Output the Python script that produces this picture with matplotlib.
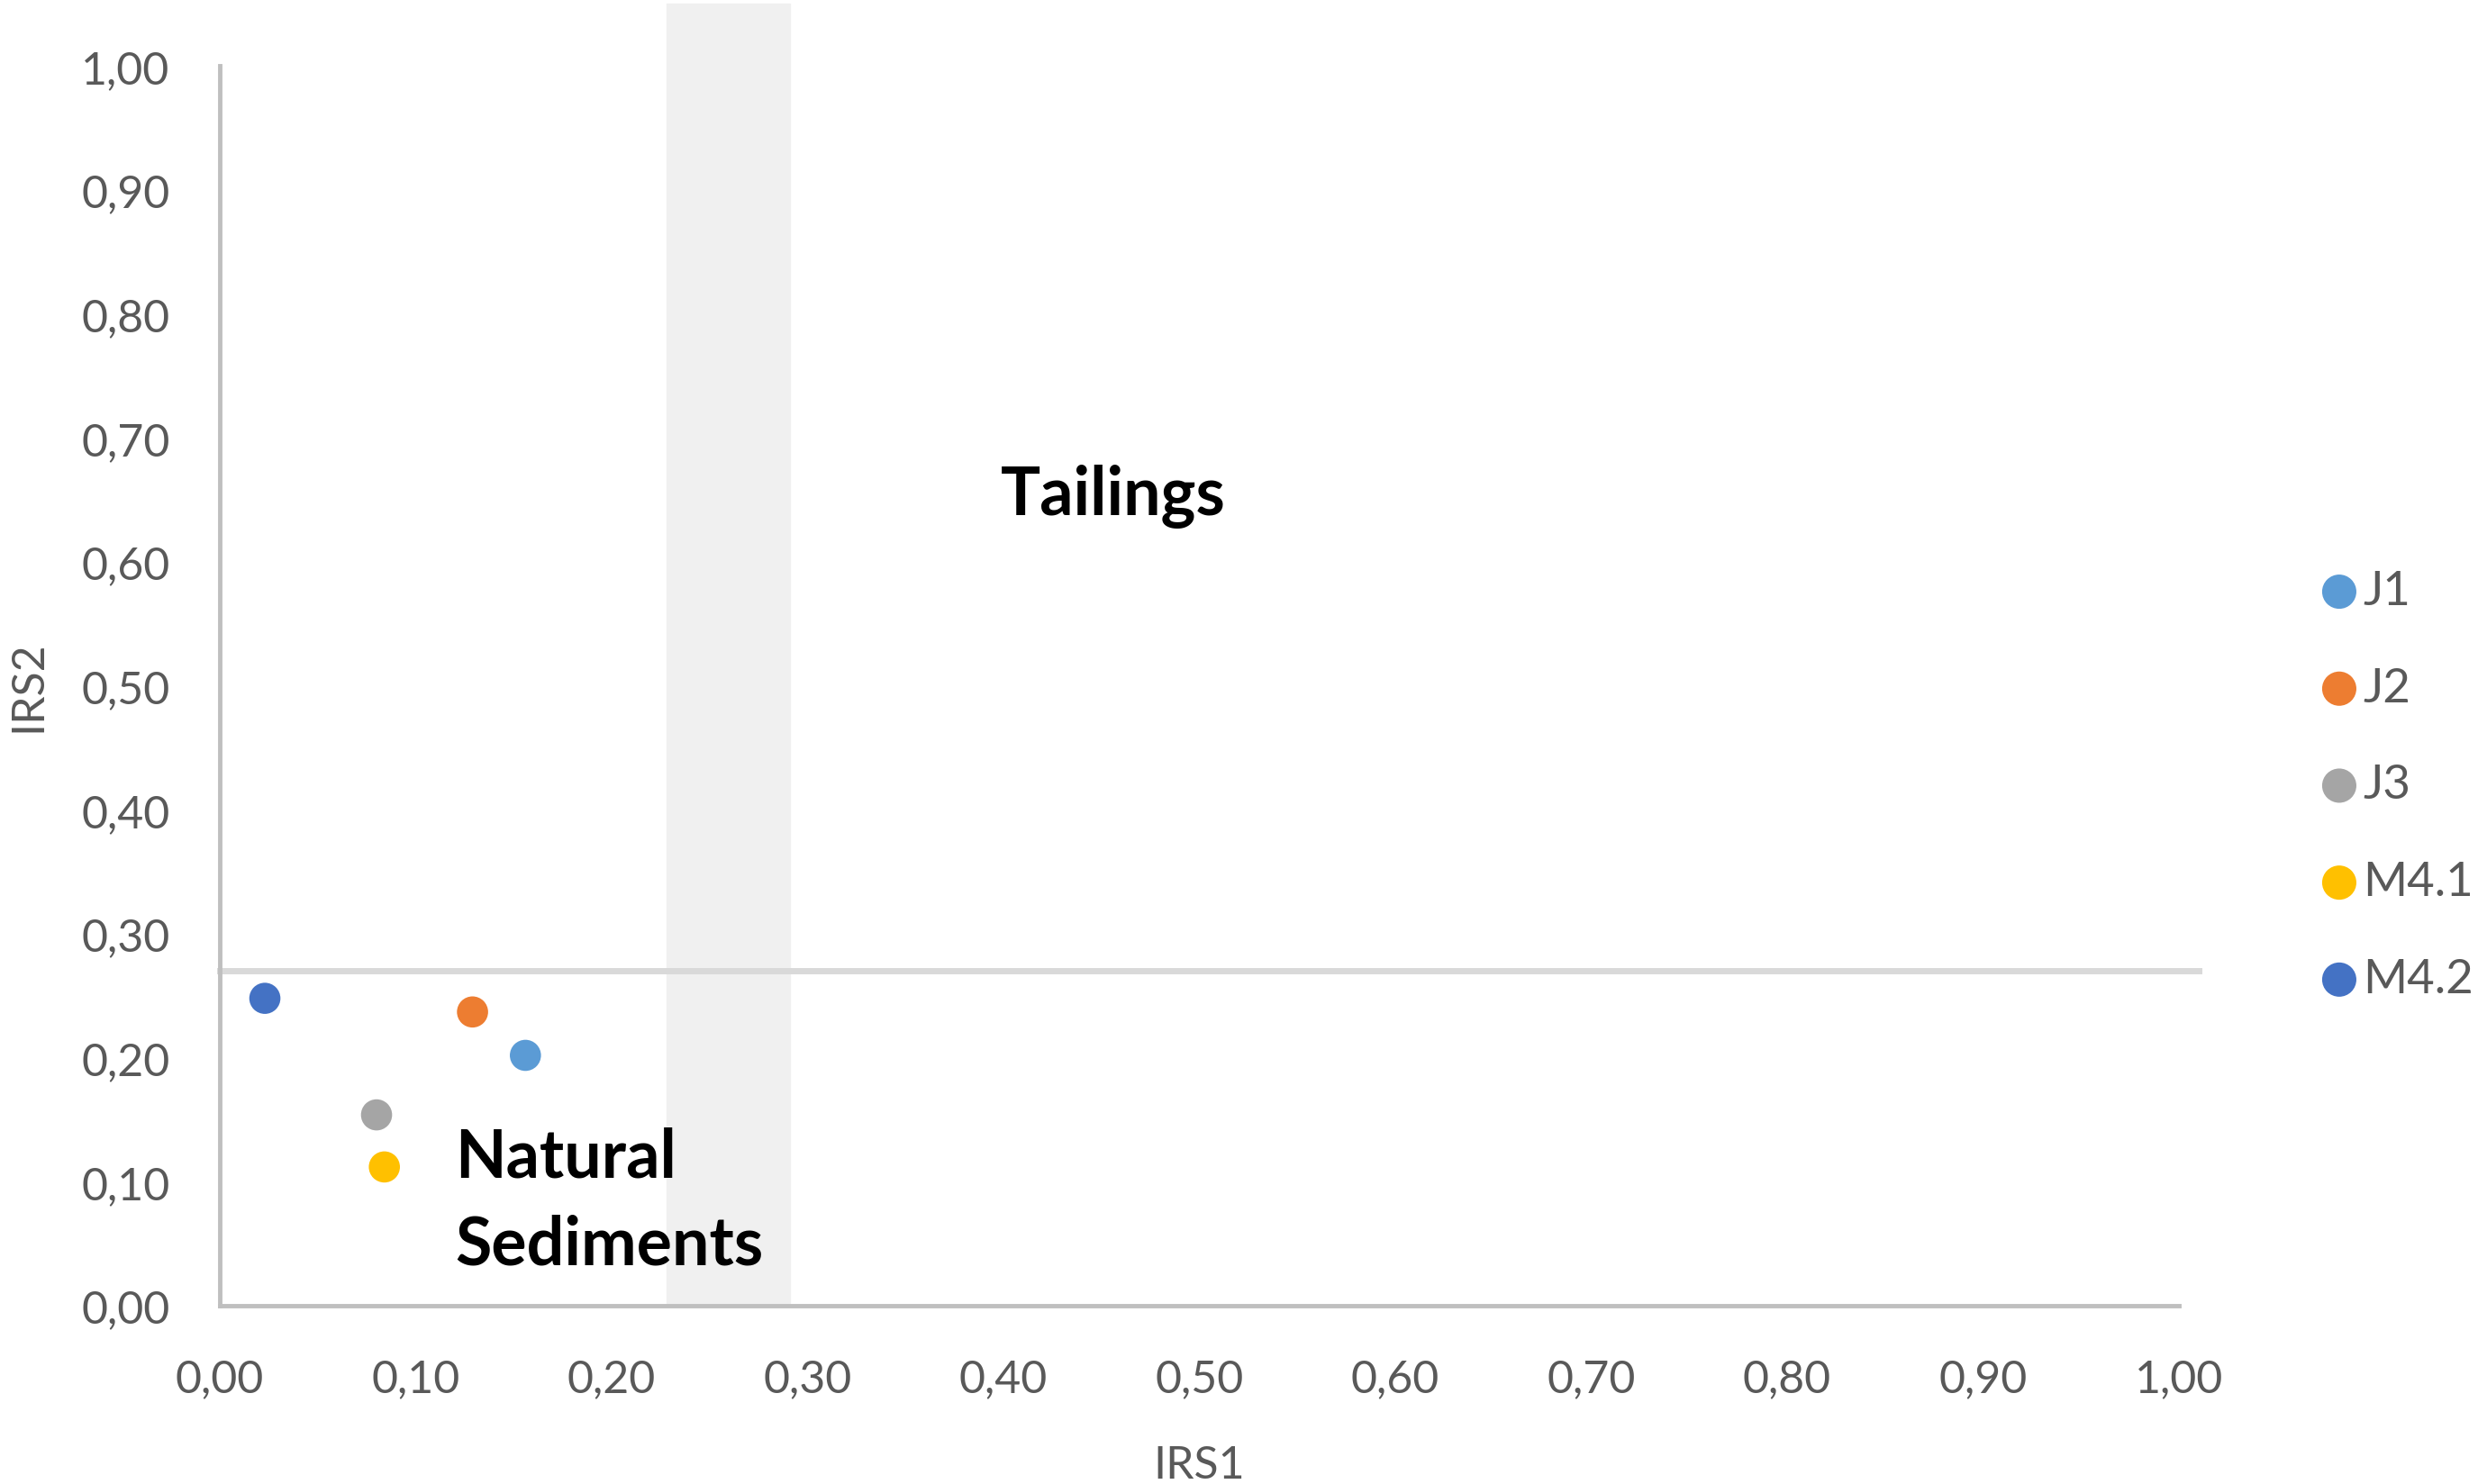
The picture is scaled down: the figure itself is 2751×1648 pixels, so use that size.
import matplotlib.pyplot as plt
from matplotlib.ticker import FuncFormatter

# sample names and their IRS indices
samples = ['J1', 'J2', 'J3', 'M4.1', 'M4.2']
irs1 = [0.156, 0.129, 0.080, 0.084, 0.023]
irs2 = [0.202, 0.237, 0.154, 0.112, 0.248]
colors = ['#5B9BD5', '#ED7D31', '#A5A5A5', '#FFC000', '#4472C4']

# threshold values
irs2_limit = 0.27
irs1_band = [0.228, 0.291]

plt.rcParams['font.family'] = ['Lato', 'DejaVu Sans']

fig = plt.figure(figsize=(27.51, 16.49), dpi=100)
ax = fig.add_axes([0.0887, 0.120, 0.7906, 0.835])

# grey zone for IRS1 threshold
ax.axvspan(irs1_band[0], irs1_band[1], ymin=0, ymax=1.05, color='#F0F0F0', zorder=0, clip_on=False)
# IRS2 threshold line
ax.axhline(irs2_limit, xmin=0, xmax=1.01, color='#D9D9D9', linewidth=5, zorder=1, clip_on=False)

for i in range(len(samples)):
    ax.scatter(irs1[i], irs2[i], s=620, color=colors[i], label=samples[i], zorder=3, edgecolors='none')

ax.text(0.456, 0.653, 'Tailings', fontsize=53, fontweight='bold', ha='center', va='center')
ax.text(0.120, 0.085, 'Natural\nSediments', fontsize=53, fontweight='bold', ha='left', va='center', linespacing=1.5)

ax.set_xlim(0, 1)
ax.set_ylim(0, 1)
ticks = [i / 10 for i in range(11)]
ax.set_xticks(ticks)
ax.set_yticks(ticks)
fmt = FuncFormatter(lambda v, p: f'{v:.2f}'.replace('.', ','))
ax.xaxis.set_major_formatter(fmt)
ax.yaxis.set_major_formatter(fmt)
ax.tick_params(length=0, labelsize=36, labelcolor='#595959')
ax.tick_params(axis='x', pad=42)
ax.tick_params(axis='y', pad=40)

for side in ['top', 'right']:
    ax.spines[side].set_visible(False)
for side in ['left', 'bottom']:
    ax.spines[side].set_color('#BFBFBF')
    ax.spines[side].set_linewidth(3.5)

ax.set_xlabel('IRS1', fontsize=36, color='#595959', labelpad=36)
ax.set_ylabel('IRS2', fontsize=36, color='#595959', labelpad=26)

ax.legend(loc='center left', bbox_to_anchor=(1.06, 0.42), frameon=False, fontsize=38,
          labelcolor='#595959', handletextpad=0.0, labelspacing=1.15, borderaxespad=0,
          markerscale=1.1, handlelength=1.0)

fig.savefig('out.png', dpi=100)
